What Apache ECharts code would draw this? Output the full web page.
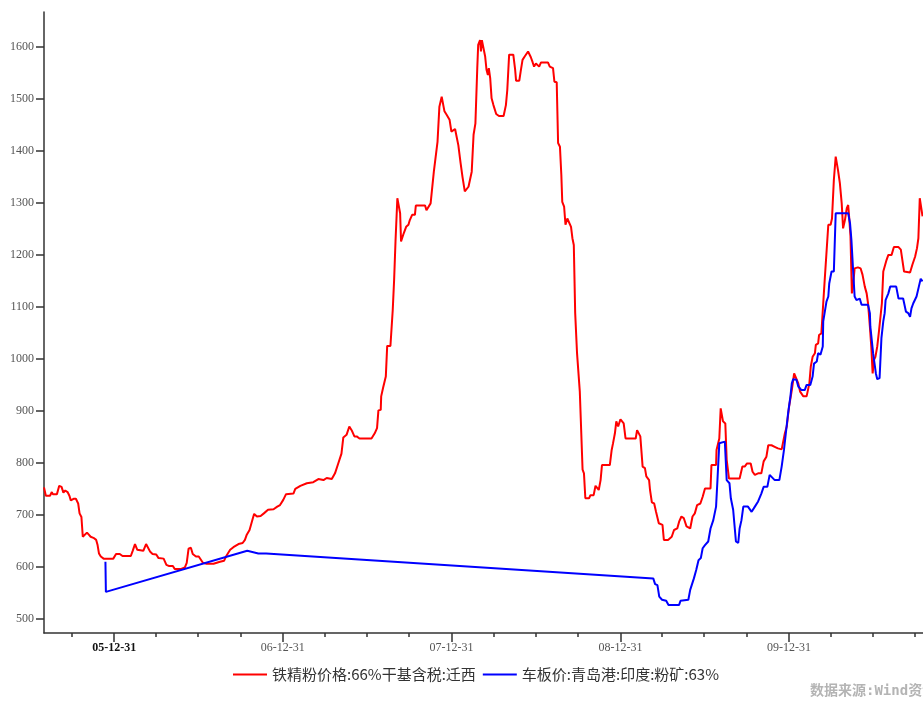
<!DOCTYPE html>
<html><head><meta charset="utf-8">
<script src="https://cdn.jsdelivr.net/npm/echarts@6/dist/echarts.min.js"></script>
<style>html,body{margin:0;padding:0;background:#fff}#c{width:923px;height:701px}</style>
</head><body><div id="c"></div>
<script>
// ---- data ----
const seriesNames = ['铁精粉价格:66%干基含税:迁西', '车板价:青岛港:印度:粉矿:63%'];

const ironDates = ['2005-08-01','2005-08-05','2005-08-14','2005-08-18','2005-08-20','2005-08-29','2005-09-03','2005-09-08','2005-09-12','2005-09-16','2005-09-21','2005-09-25','2005-09-28','2005-10-04','2005-10-09','2005-10-14','2005-10-17','2005-10-21','2005-10-24','2005-10-28','2005-11-02','2005-11-06','2005-11-10','2005-11-16','2005-11-22','2005-11-25','2005-11-28','2005-12-02','2005-12-08','2005-12-29',
'2006-01-04','2006-01-12','2006-01-18','2006-02-05','2006-02-09','2006-02-14','2006-02-19','2006-03-04','2006-03-10','2006-03-13','2006-03-19','2006-03-24','2006-04-01','2006-04-06','2006-04-17','2006-04-23','2006-04-28','2006-05-07','2006-05-11','2006-05-25','2006-06-02','2006-06-06','2006-06-10','2006-06-15','2006-06-19','2006-06-26','2006-07-02','2006-07-11','2006-07-19','2006-08-03','2006-08-17','2006-08-26','2006-08-30','2006-09-08','2006-09-15','2006-09-26','2006-10-05','2006-10-10','2006-10-14','2006-10-20','2006-10-23','2006-10-27','2006-10-30','2006-11-05','2006-11-13','2006-11-20','2006-11-29','2006-12-11','2006-12-19','2006-12-25',
'2007-01-01','2007-01-07','2007-01-23','2007-01-27','2007-02-07','2007-02-21','2007-03-07','2007-03-18','2007-03-29','2007-04-05','2007-04-16','2007-04-23','2007-04-30','2007-05-07','2007-05-11','2007-05-18','2007-05-24','2007-05-29','2007-06-04','2007-06-09','2007-06-15','2007-07-11','2007-07-18','2007-07-23','2007-07-26','2007-07-31','2007-08-01','2007-08-05','2007-08-11','2007-08-14','2007-08-21','2007-08-26','2007-08-29','2007-09-01','2007-09-05','2007-09-08','2007-09-11','2007-09-13','2007-09-16','2007-09-19','2007-09-24','2007-09-29','2007-10-02','2007-10-07','2007-10-13','2007-10-15','2007-11-04','2007-11-07','2007-11-11','2007-11-16','2007-11-19','2007-11-23','2007-11-27','2007-12-01','2007-12-05','2007-12-10','2007-12-14','2007-12-16','2007-12-21','2007-12-27','2007-12-31',
'2008-01-08','2008-01-10','2008-01-15','2008-01-20','2008-01-24','2008-01-29','2008-02-02','2008-02-06','2008-02-13','2008-02-17','2008-02-21','2008-02-25','2008-02-27','2008-03-02','2008-03-04','2008-03-06','2008-03-09','2008-03-13','2008-03-16','2008-03-19','2008-03-21','2008-03-24','2008-03-27','2008-03-31','2008-04-06','2008-04-12','2008-04-22','2008-04-27','2008-04-30','2008-05-04','2008-05-13','2008-05-17','2008-05-19','2008-05-26','2008-05-29','2008-06-02','2008-06-07','2008-06-14','2008-06-20','2008-06-24','2008-06-27','2008-07-01','2008-07-08','2008-07-12','2008-07-27','2008-07-31','2008-08-07','2008-08-10','2008-08-15','2008-08-18','2008-08-22','2008-08-25','2008-08-27','2008-08-31','2008-09-03','2008-09-07','2008-09-10','2008-09-15','2008-09-18','2008-09-21','2008-09-24','2008-09-28','2008-10-04','2008-10-06','2008-10-10','2008-10-13','2008-10-16','2008-10-24','2008-10-27','2008-11-03','2008-11-07','2008-11-10','2008-11-14','2008-11-18','2008-11-21','2008-12-08','2008-12-12','2008-12-15','2008-12-19','2008-12-22','2008-12-26','2008-12-31',
'2009-01-04','2009-01-07','2009-01-11','2009-02-02','2009-02-05','2009-02-09','2009-02-12','2009-02-17','2009-02-22','2009-02-25','2009-03-03','2009-03-05','2009-03-09','2009-03-14','2009-03-18','2009-03-21','2009-03-24','2009-04-01','2009-04-04','2009-04-13','2009-04-21','2009-04-26','2009-05-03','2009-05-07','2009-05-12','2009-05-17','2009-05-23','2009-05-31','2009-06-05','2009-06-10','2009-06-15','2009-06-22','2009-06-27','2009-07-02','2009-07-14','2009-07-16','2009-07-26','2009-07-27','2009-08-02','2009-08-05','2009-08-08','2009-08-10','2009-08-15','2009-08-18','2009-08-23','2009-09-15','2009-09-21','2009-09-26','2009-10-01','2009-10-09','2009-10-13','2009-10-18','2009-10-25','2009-11-01','2009-11-06','2009-11-12','2009-11-16','2009-11-23','2009-11-30','2009-12-07','2009-12-15','2009-12-22','2009-12-26','2009-12-31',
'2010-01-06','2010-01-11','2010-01-15','2010-01-20','2010-01-24','2010-01-31','2010-02-07','2010-02-13','2010-02-16','2010-02-20','2010-02-25','2010-02-27','2010-03-04','2010-03-06','2010-03-11','2010-03-15','2010-03-18','2010-03-22','2010-03-26','2010-03-31','2010-04-03','2010-04-07','2010-04-11','2010-04-16','2010-04-20','2010-04-24','2010-04-27','2010-05-01','2010-05-05','2010-05-08','2010-05-10','2010-05-13','2010-05-16','2010-05-19','2010-05-22','2010-05-29','2010-06-04','2010-06-08','2010-06-13','2010-06-17','2010-06-20','2010-06-24','2010-06-27','2010-06-30','2010-07-03','2010-07-06','2010-07-10','2010-07-14','2010-07-20','2010-07-23','2010-07-30','2010-08-03','2010-08-10','2010-08-15','2010-08-25','2010-08-30','2010-09-03','2010-09-06','2010-09-19','2010-09-24','2010-09-30','2010-10-04','2010-10-07','2010-10-10','2010-10-14','2010-10-16'];

const ironValues = [753,737,737,744,740,740,756,754,743,747,744,737,728,731,731,722,703,696,658,658,666,662,658,656,652,642,626,620,616,616,
625,625,621,621,631,644,633,631,644,646,629,625,624,617,616,604,602,602,596,596,599,608,635,637,625,620,620,608,606,606,610,612,620,633,638,644,646,652,662,671,672,693,702,697,698,703,710,711,716,719,
729,740,741,750,756,761,763,769,767,771,769,780,799,818,849,854,870,863,851,851,847,847,857,867,901,902,928,944,966,1025,1025,1094,1152,1226,1309,1306,1280,1226,1226,1242,1254,1258,1267,1277,1277,1295,1295,1286,1286,1299,1302,1360,1360,1418,1485,1504,1501,1476,1469,1460,1437,
1442,1433,1411,1376,1350,1322,1320,1331,1360,1431,1453,1559,1604,1613,1591,1613,1613,1582,1556,1546,1559,1540,1501,1488,1471,1467,1467,1488,1517,1585,1585,1556,1535,1535,1553,1575,1582,1591,1580,1570,1562,1568,1562,1570,1570,1562,1559,1533,1532,1415,1408,1354,1302,1293,1258,1270,1270,1254,1232,1219,1088,1011,937,937,787,780,732,732,738,738,756,756,748,767,796,796,825,838,857,880,870,884,
885,876,847,847,863,864,851,793,790,774,767,748,724,722,706,703,684,681,652,652,658,671,674,687,697,694,678,674,697,703,719,722,735,751,751,796,796,825,847,905,905,880,876,806,770,770,793,793,799,799,783,777,780,780,803,812,834,834,831,828,826,857,870,908,
940,972,975,953,937,928,928,953,985,1004,1011,1027,1030,1046,1049,1107,1149,1152,1258,1258,1270,1344,1389,1363,1338,1299,1251,1267,1290,1296,1274,1236,1126,1145,1174,1176,1174,1162,1139,1126,1107,1062,1024,972,998,1004,1024,1056,1107,1168,1190,1200,1200,1215,1215,1210,1213,1168,1166,1181,1197,1213,1232,1309,1309,1274];

const oreDates = ['2005-12-12','2005-12-13','2006-10-15','2006-11-08','2006-11-25',
'2009-03-12','2009-03-16','2009-03-21','2009-03-25','2009-03-31','2009-04-09','2009-04-14','2009-05-07','2009-05-10','2009-05-27','2009-05-31','2009-06-03','2009-06-08','2009-06-13','2009-06-18','2009-06-23','2009-06-27','2009-07-02','2009-07-09','2009-07-14','2009-07-20','2009-07-26','2009-07-29','2009-08-02','2009-08-05','2009-08-14','2009-08-18','2009-08-24','2009-08-27','2009-09-01','2009-09-07','2009-09-12','2009-09-15','2009-09-19','2009-09-23','2009-10-03','2009-10-11','2009-10-18','2009-10-25','2009-11-01','2009-11-06','2009-11-14','2009-11-19','2009-11-30','2009-12-10','2009-12-15','2009-12-20','2009-12-24','2009-12-29',
'2010-01-03','2010-01-06','2010-01-09','2010-01-16','2010-01-20','2010-01-27','2010-02-03','2010-02-07','2010-02-15','2010-02-20','2010-02-23','2010-03-01','2010-03-04','2010-03-09','2010-03-14','2010-03-15','2010-03-18','2010-03-22','2010-03-26','2010-03-28','2010-04-02','2010-04-07','2010-04-11','2010-05-08','2010-05-12','2010-05-15','2010-05-19','2010-05-22','2010-05-26','2010-05-29','2010-06-02','2010-06-06','2010-06-20','2010-06-24','2010-06-25','2010-07-01','2010-07-07','2010-07-10','2010-07-15','2010-07-19','2010-07-23','2010-07-26','2010-07-28','2010-08-03','2010-08-07','2010-08-20','2010-08-25','2010-09-04','2010-09-10','2010-09-15','2010-09-19','2010-09-22','2010-09-26','2010-10-03','2010-10-08','2010-10-12','2010-10-16'];

const oreValues = [610,552,631,626,626,
578,567,565,543,537,535,527,527,535,537,556,559,578,594,613,617,636,642,649,674,690,716,767,838,841,841,767,761,732,710,649,646,674,690,716,716,706,716,726,741,754,754,777,767,767,793,825,857,896,
928,953,961,960,947,940,940,950,950,966,991,995,1011,1008,1024,1072,1075,1110,1120,1145,1168,1168,1280,1280,1261,1229,1165,1120,1113,1113,1116,1104,1104,1088,1062,1011,972,961,963,1040,1072,1088,1113,1126,1139,1139,1116,1116,1091,1088,1081,1097,1107,1120,1139,1154,1149];

const xLabelDates = ['2005-12-31','2006-12-31','2007-12-31','2008-12-31','2009-12-31'];
const xMinorTickDates = ['2005-09-30','2005-12-31','2006-03-31','2006-06-30','2006-09-30','2006-12-31','2007-03-31','2007-06-30','2007-09-30','2007-12-31','2008-03-31','2008-06-30','2008-09-30','2008-12-31','2009-03-31','2009-06-30','2009-09-30','2009-12-31','2010-03-31','2010-06-30','2010-09-30'];
const yTickValues = [500,600,700,800,900,1000,1100,1200,1300,1400,1500,1600];
const xRange = ['2005-08-01', '2010-10-17'];
const yRange = [473, 1667];
const sourceText = '数据来源:Wind资讯';

// ---- chart ----
const ts = s => Date.UTC(+s.slice(0, 4), +s.slice(5, 7) - 1, +s.slice(8, 10));
const pad = n => (n < 10 ? '0' : '') + n;
const fmt = v => { const d = new Date(v); return pad(d.getUTCFullYear() % 100) + '-' + pad(d.getUTCMonth() + 1) + '-' + pad(d.getUTCDate()); };
const firstLabel = ts(xLabelDates[0]);

const axisColor = '#333';
const labelColor = '#555';
const serif = '"Liberation Serif", "DejaVu Serif", serif';

const chart = echarts.init(document.getElementById('c'), null, { renderer: 'canvas' });
chart.setOption({
  animation: false,
  backgroundColor: '#fff',
  grid: { left: 44, right: 0, top: 12, bottom: 68, containLabel: false, outerBoundsMode: 'none' },
  xAxis: [{
    type: 'value', min: ts(xRange[0]), max: ts(xRange[1]), position: 'bottom', scale: true,
    axisLine: { show: true, lineStyle: { color: axisColor, width: 1.5 } },
    axisTick: { show: true, customValues: xLabelDates.map(ts), length: 9, lineStyle: { color: axisColor, width: 1.5 } },
    axisLabel: {
      customValues: xLabelDates.map(ts), margin: 9, color: labelColor, fontFamily: serif, fontSize: 12,
      formatter: v => (Math.abs(v - firstLabel) < 86400000 ? '{b|' + fmt(v) + '}' : fmt(v)),
      rich: { b: { color: '#111', fontWeight: 'bold', fontFamily: serif, fontSize: 12 } }
    },
    splitLine: { show: false }
  }, {
    type: 'value', min: ts(xRange[0]), max: ts(xRange[1]), position: 'bottom', offset: 0, scale: true,
    axisLine: { show: false },
    axisTick: { show: true, customValues: xMinorTickDates.map(ts), length: 4, lineStyle: { color: axisColor, width: 1.5 } },
    axisLabel: { show: false },
    splitLine: { show: false }
  }],
  yAxis: {
    type: 'value', min: yRange[0], max: yRange[1],
    axisLine: { show: true, lineStyle: { color: axisColor, width: 1.5 } },
    axisTick: { show: true, customValues: yTickValues, length: 8, lineStyle: { color: axisColor, width: 1.5 } },
    axisLabel: { customValues: yTickValues, margin: 10, color: labelColor, fontFamily: serif, fontSize: 12, formatter: v => String(v) },
    splitLine: { show: false }
  },
  legend: {
    left: 233, top: 667, padding: 0, itemWidth: 34, itemHeight: 2, itemGap: 7, icon: 'rect',
    textStyle: { fontSize: 15, color: '#333', fontFamily: '"Noto Sans CJK SC", sans-serif' },
    data: seriesNames
  },
  graphic: [{
    type: 'text', left: 810, top: 684,
    style: { text: sourceText, fill: '#b4b4b4', font: 'bold 14px "DejaVu Sans Mono", "Noto Sans CJK SC", monospace' }
  }],
  series: [{
    name: seriesNames[0], type: 'line', symbol: 'none', xAxisIndex: 0,
    lineStyle: { color: '#ff0000', width: 2 }, itemStyle: { color: '#ff0000' },
    data: ironDates.map((d, i) => [ts(d), ironValues[i]])
  }, {
    name: seriesNames[1], type: 'line', symbol: 'none', xAxisIndex: 0,
    lineStyle: { color: '#0000ff', width: 2 }, itemStyle: { color: '#0000ff' },
    data: oreDates.map((d, i) => [ts(d), oreValues[i]])
  }]
});
</script>
</body></html>
